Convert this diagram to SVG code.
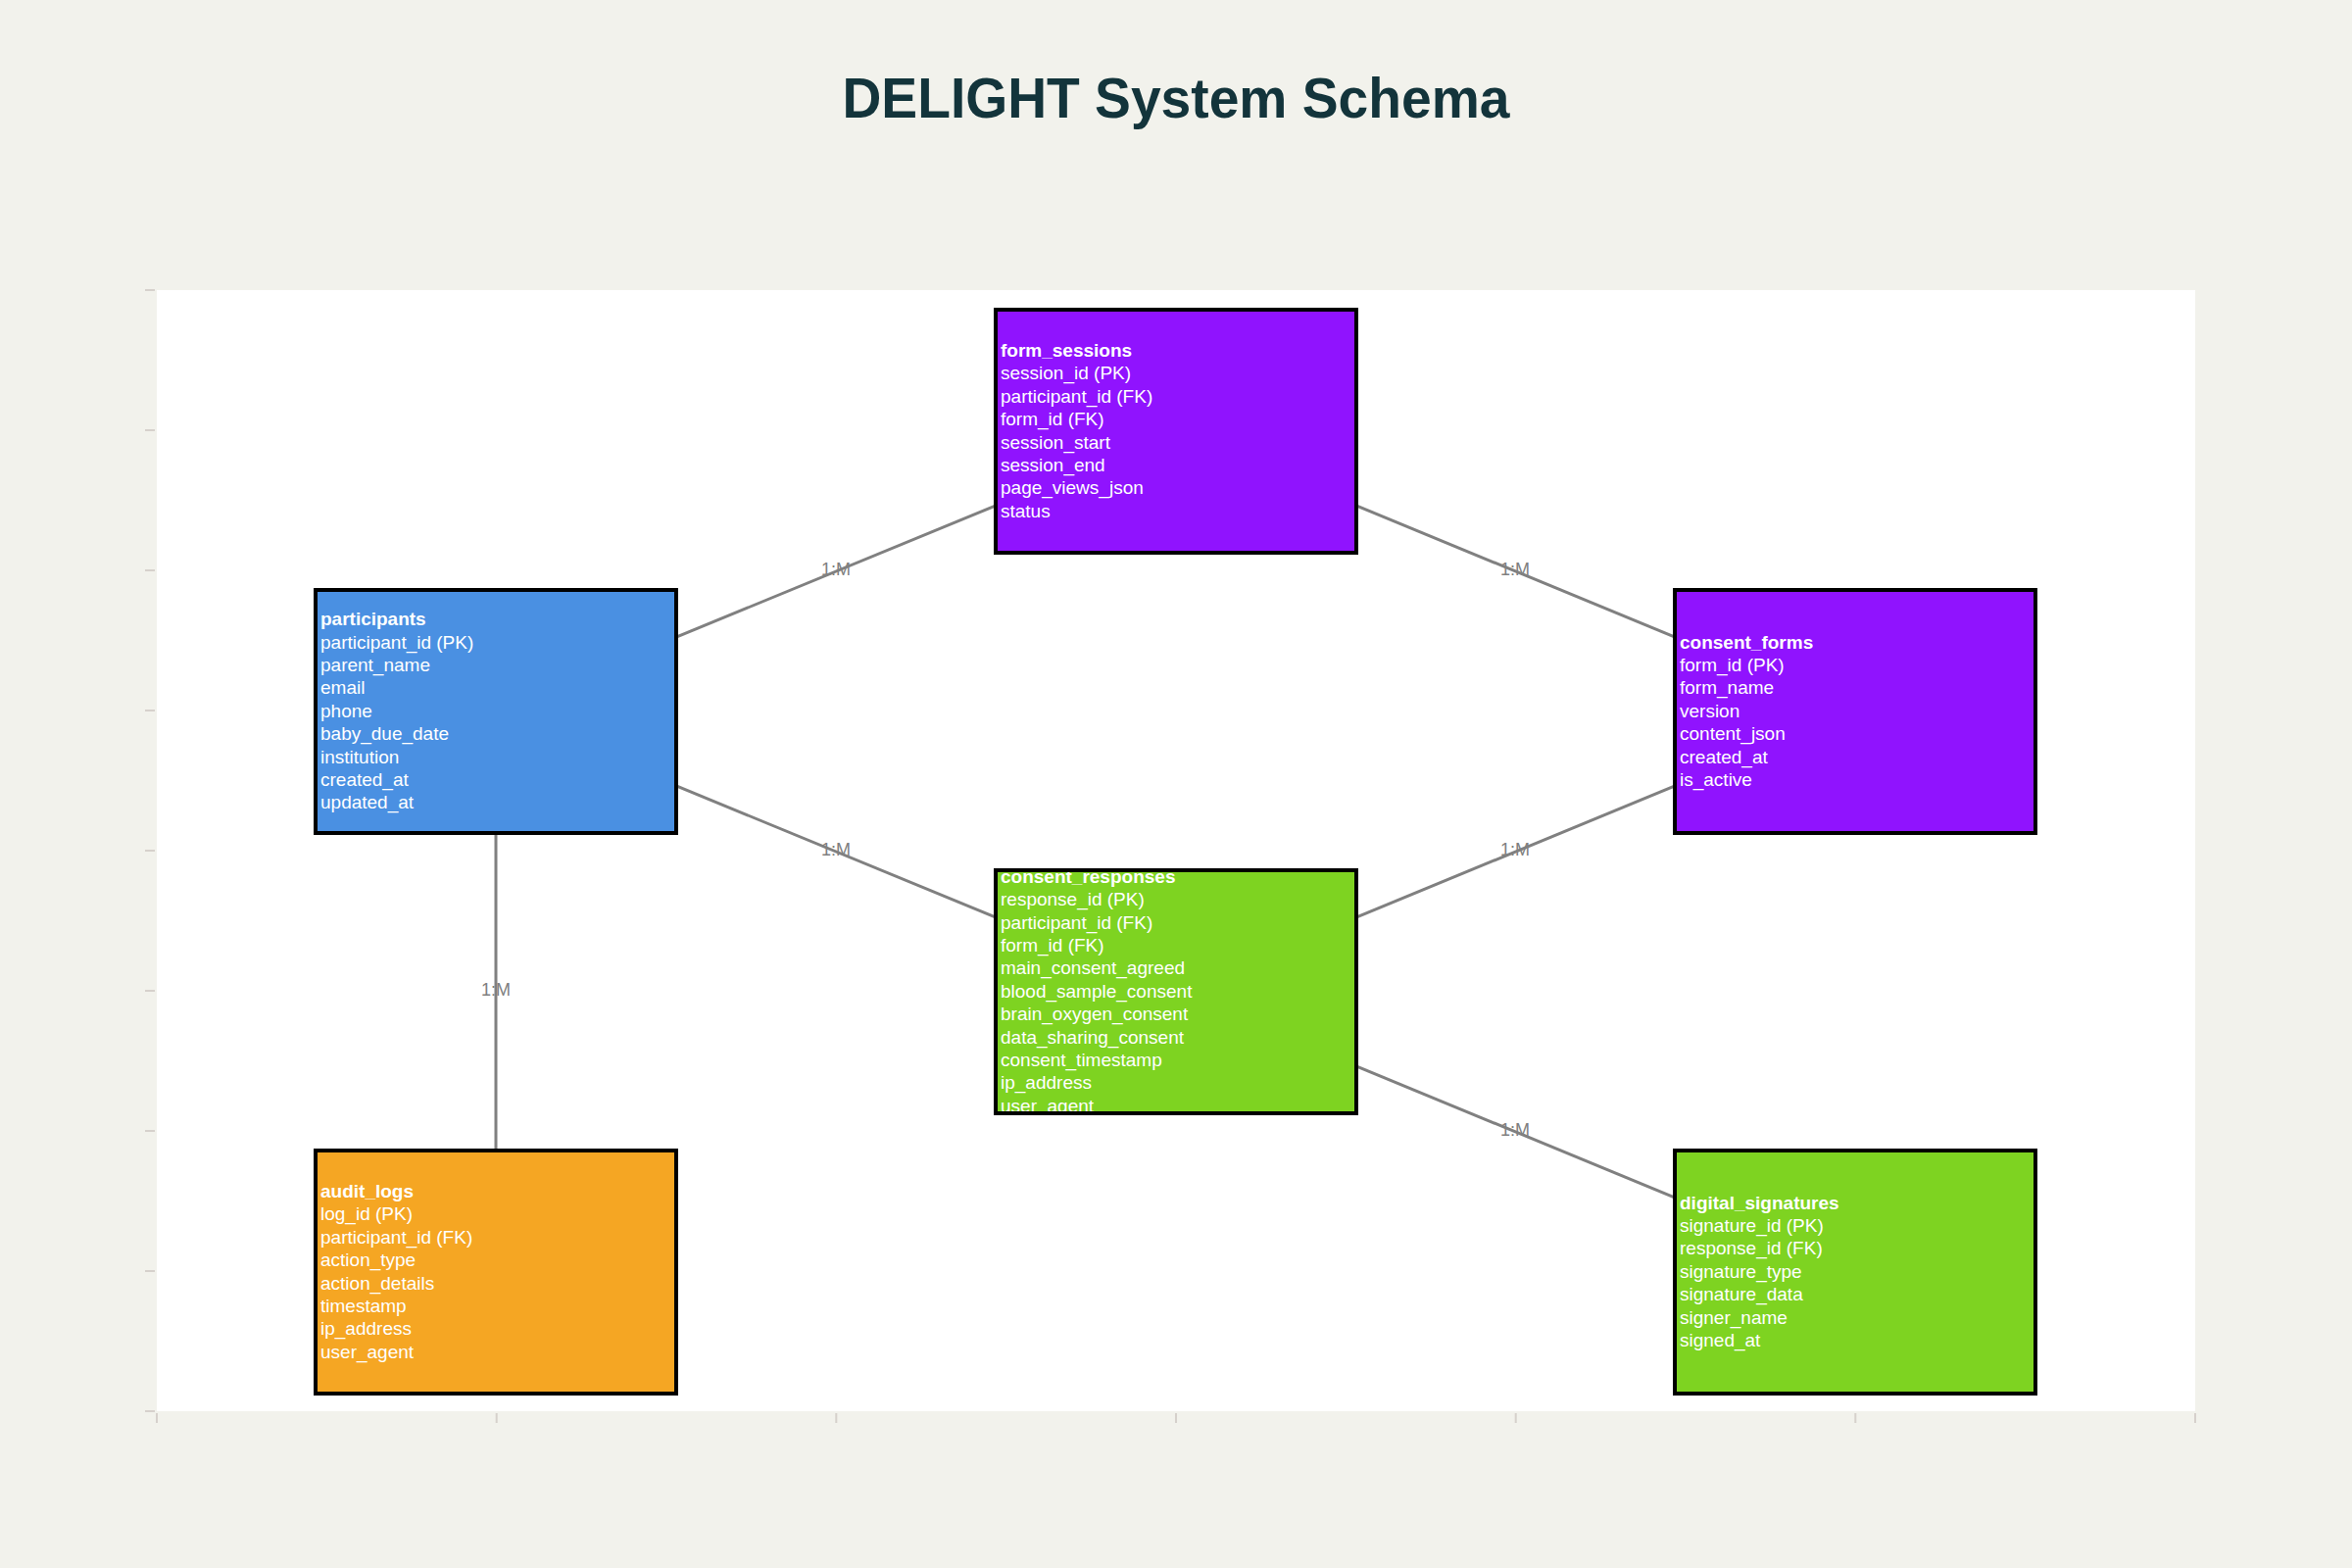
<svg xmlns="http://www.w3.org/2000/svg" width="2400" height="1600" viewBox="0 0 2400 1600">
  <style>
    .bg { fill: #F2F2EC; }
    .plot { fill: #FFFFFF; }
    .tick { stroke: #D6D1CC; stroke-width: 2; }
    .title { font-family: "Liberation Sans", Arial, sans-serif; font-weight: bold; font-size: 58px; fill: #13343B; }
    .edge { stroke: #808080; stroke-width: 3; fill: none; }
    .elabel { font-family: "Liberation Sans", Arial, sans-serif; font-size: 18px; fill: #808080; }
    .box { stroke: #000000; stroke-width: 4; }
    .ntext { font-family: "Liberation Sans", Arial, sans-serif; font-size: 19px; fill: #FFFFFF; }
    .ntitle { font-weight: bold; }
    .blue { fill: #4A90E2; }
    .purple { fill: #9013FE; }
    .green { fill: #7ED321; }
    .orange { fill: #F5A623; }
  </style>
  <defs>
    <clipPath id="clip-cr"><rect x="1018" y="890" width="364" height="244"/></clipPath>
  </defs>

  <rect class="bg" x="0" y="0" width="2400" height="1600"/>
  <rect class="plot" x="160" y="296" width="2080" height="1144"/>

  <g id="axes">
    <line class="tick" x1="148" y1="296" x2="158" y2="296"/>
    <line class="tick" x1="148" y1="439" x2="158" y2="439"/>
    <line class="tick" x1="148" y1="582" x2="158" y2="582"/>
    <line class="tick" x1="148" y1="725" x2="158" y2="725"/>
    <line class="tick" x1="148" y1="868" x2="158" y2="868"/>
    <line class="tick" x1="148" y1="1011" x2="158" y2="1011"/>
    <line class="tick" x1="148" y1="1154" x2="158" y2="1154"/>
    <line class="tick" x1="148" y1="1297" x2="158" y2="1297"/>
    <line class="tick" x1="148" y1="1440" x2="158" y2="1440"/>
    <line class="tick" x1="160" y1="1442" x2="160" y2="1452"/>
    <line class="tick" x1="506.7" y1="1442" x2="506.7" y2="1452"/>
    <line class="tick" x1="853.3" y1="1442" x2="853.3" y2="1452"/>
    <line class="tick" x1="1200" y1="1442" x2="1200" y2="1452"/>
    <line class="tick" x1="1546.7" y1="1442" x2="1546.7" y2="1452"/>
    <line class="tick" x1="1893.3" y1="1442" x2="1893.3" y2="1452"/>
    <line class="tick" x1="2240" y1="1442" x2="2240" y2="1452"/>
  </g>

  <text class="title" x="1200" y="120" text-anchor="middle" textLength="681" lengthAdjust="spacingAndGlyphs">DELIGHT System Schema</text>

  <g id="connectors">
    <line class="edge" x1="506" y1="726" x2="1200" y2="440"/>
    <line class="edge" x1="1200" y1="440" x2="1893" y2="726"/>
    <line class="edge" x1="506" y1="726" x2="1200" y2="1012"/>
    <line class="edge" x1="1893" y1="726" x2="1200" y2="1012"/>
    <line class="edge" x1="506" y1="726" x2="506" y2="1298"/>
    <line class="edge" x1="1200" y1="1012" x2="1893" y2="1298"/>
    <text class="elabel" x="853" y="587" text-anchor="middle">1:M</text>
    <text class="elabel" x="1546" y="587" text-anchor="middle">1:M</text>
    <text class="elabel" x="853" y="873" text-anchor="middle">1:M</text>
    <text class="elabel" x="1546" y="873" text-anchor="middle">1:M</text>
    <text class="elabel" x="506" y="1016" text-anchor="middle">1:M</text>
    <text class="elabel" x="1546" y="1159" text-anchor="middle">1:M</text>
  </g>

  <g id="node-participants">
    <rect class="box blue" x="322" y="602" width="368" height="248"/>
    <text class="ntext" y="638.2">
      <tspan class="ntitle" x="327">participants</tspan>
      <tspan x="327" dy="23.4">participant_id (PK)</tspan>
      <tspan x="327" dy="23.4">parent_name</tspan>
      <tspan x="327" dy="23.4">email</tspan>
      <tspan x="327" dy="23.4">phone</tspan>
      <tspan x="327" dy="23.4">baby_due_date</tspan>
      <tspan x="327" dy="23.4">institution</tspan>
      <tspan x="327" dy="23.4">created_at</tspan>
      <tspan x="327" dy="23.4">updated_at</tspan>
    </text>
  </g>

  <g id="node-form_sessions">
    <rect class="box purple" x="1016" y="316" width="368" height="248"/>
    <text class="ntext" y="363.9">
      <tspan class="ntitle" x="1021">form_sessions</tspan>
      <tspan x="1021" dy="23.4">session_id (PK)</tspan>
      <tspan x="1021" dy="23.4">participant_id (FK)</tspan>
      <tspan x="1021" dy="23.4">form_id (FK)</tspan>
      <tspan x="1021" dy="23.4">session_start</tspan>
      <tspan x="1021" dy="23.4">session_end</tspan>
      <tspan x="1021" dy="23.4">page_views_json</tspan>
      <tspan x="1021" dy="23.4">status</tspan>
    </text>
  </g>

  <g id="node-consent_forms">
    <rect class="box purple" x="1709" y="602" width="368" height="248"/>
    <text class="ntext" y="661.6">
      <tspan class="ntitle" x="1714">consent_forms</tspan>
      <tspan x="1714" dy="23.4">form_id (PK)</tspan>
      <tspan x="1714" dy="23.4">form_name</tspan>
      <tspan x="1714" dy="23.4">version</tspan>
      <tspan x="1714" dy="23.4">content_json</tspan>
      <tspan x="1714" dy="23.4">created_at</tspan>
      <tspan x="1714" dy="23.4">is_active</tspan>
    </text>
  </g>

  <g id="node-consent_responses">
    <rect class="box green" x="1016" y="888" width="368" height="248"/>
    <text class="ntext" y="900.8" clip-path="url(#clip-cr)">
      <tspan class="ntitle" x="1021">consent_responses</tspan>
      <tspan x="1021" dy="23.4">response_id (PK)</tspan>
      <tspan x="1021" dy="23.4">participant_id (FK)</tspan>
      <tspan x="1021" dy="23.4">form_id (FK)</tspan>
      <tspan x="1021" dy="23.4">main_consent_agreed</tspan>
      <tspan x="1021" dy="23.4">blood_sample_consent</tspan>
      <tspan x="1021" dy="23.4">brain_oxygen_consent</tspan>
      <tspan x="1021" dy="23.4">data_sharing_consent</tspan>
      <tspan x="1021" dy="23.4">consent_timestamp</tspan>
      <tspan x="1021" dy="23.4">ip_address</tspan>
      <tspan x="1021" dy="23.4">user_agent</tspan>
    </text>
  </g>

  <g id="node-audit_logs">
    <rect class="box orange" x="322" y="1174" width="368" height="248"/>
    <text class="ntext" y="1221.9">
      <tspan class="ntitle" x="327">audit_logs</tspan>
      <tspan x="327" dy="23.4">log_id (PK)</tspan>
      <tspan x="327" dy="23.4">participant_id (FK)</tspan>
      <tspan x="327" dy="23.4">action_type</tspan>
      <tspan x="327" dy="23.4">action_details</tspan>
      <tspan x="327" dy="23.4">timestamp</tspan>
      <tspan x="327" dy="23.4">ip_address</tspan>
      <tspan x="327" dy="23.4">user_agent</tspan>
    </text>
  </g>

  <g id="node-digital_signatures">
    <rect class="box green" x="1709" y="1174" width="368" height="248"/>
    <text class="ntext" y="1233.6">
      <tspan class="ntitle" x="1714">digital_signatures</tspan>
      <tspan x="1714" dy="23.4">signature_id (PK)</tspan>
      <tspan x="1714" dy="23.4">response_id (FK)</tspan>
      <tspan x="1714" dy="23.4">signature_type</tspan>
      <tspan x="1714" dy="23.4">signature_data</tspan>
      <tspan x="1714" dy="23.4">signer_name</tspan>
      <tspan x="1714" dy="23.4">signed_at</tspan>
    </text>
  </g>
</svg>
